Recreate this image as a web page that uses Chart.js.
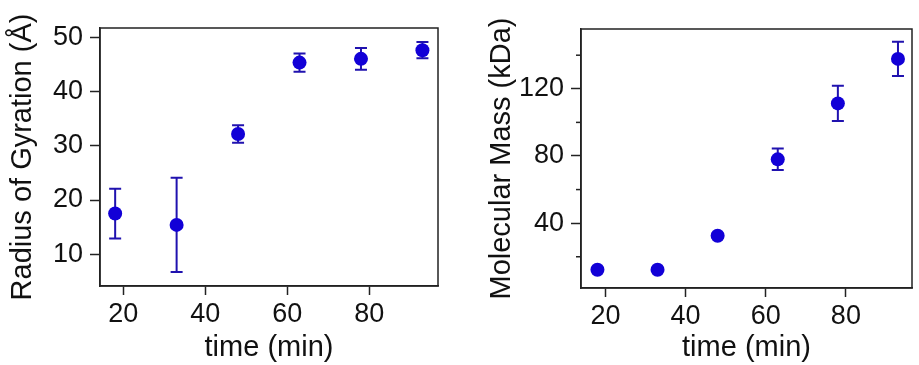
<!DOCTYPE html>
<html>
<head>
<meta charset="utf-8">
<script src="https://cdn.jsdelivr.net/npm/chart.js@4.4.1/dist/chart.umd.min.js"></script>
<style>
html, body { margin: 0; padding: 0; background: #fff; }
#wrap { position: relative; width: 919px; height: 365px; }
.panel { position: absolute; top: 0; }
</style>
</head>
<body>
<div id="wrap">
  <div class="panel" style="left:0"><canvas id="chartRg" width="460" height="365"></canvas></div>
  <div class="panel" style="left:460px"><canvas id="chartMass" width="459" height="365"></canvas></div>
</div>
<script>
// data
const timeMin = [18, 33, 48, 63, 78, 93];
const radiusGyration = [17.5, 15.4, 32.2, 45.4, 46.1, 47.7];
const radiusErr = [4.6, 8.7, 1.6, 1.7, 2.0, 1.5];
const molMass = [12.3, 12.3, 32.5, 78.0, 111.3, 137.8];
const molMassErr = [0.8, 0.8, 1.2, 6.4, 10.5, 10.2];
const xTicks = [20, 40, 60, 80];
const rgTicks = [10, 20, 30, 40, 50];
const massTicks = [40, 80, 120];
const massMinorTicks = [20, 60, 100, 140];

const fontFamily = "'Liberation Sans', Arial, Helvetica, sans-serif";
const inkColor = '#111';
const axisColor = '#222';
const dotColor = 'rgb(18, 0, 215)';
const errColor = 'rgb(32, 18, 175)';

const extras = {
    id: 'extras',
    beforeDatasetsDraw(chart, args, opts) {
        const {ctx, scales: {x, y}} = chart;
        const pts = chart.data.datasets[0].data;
        ctx.save();
        ctx.strokeStyle = errColor;
        ctx.lineWidth = 2;
        pts.forEach((p, i) => {
            const e = opts.err[i];
            const px = x.getPixelForValue(p.x);
            const top = y.getPixelForValue(p.y + e);
            const bot = y.getPixelForValue(p.y - e);
            ctx.beginPath();
            ctx.moveTo(px, top); ctx.lineTo(px, bot);
            ctx.moveTo(px - 6, top); ctx.lineTo(px + 6, top);
            ctx.moveTo(px - 6, bot); ctx.lineTo(px + 6, bot);
            ctx.stroke();
        });
        ctx.restore();
    },
    afterDraw(chart, args, opts) {
        const {ctx, chartArea: a, scales: {y}} = chart;
        ctx.save();
        // box frame
        ctx.strokeStyle = axisColor;
        ctx.lineWidth = 1.5;
        ctx.strokeRect(a.left, a.top, a.right - a.left, a.bottom - a.top);
        // minor ticks
        (opts.minor || []).forEach(v => {
            const py = y.getPixelForValue(v);
            ctx.beginPath();
            ctx.moveTo(a.left - 5, py);
            ctx.lineTo(a.left, py);
            ctx.stroke();
        });
        // y title (drawn here so it is not squeezed to the axis height)
        ctx.translate(opts.titleX, (a.top + a.bottom) / 2);
        ctx.rotate(-Math.PI / 2);
        ctx.fillStyle = inkColor;
        ctx.font = '29px ' + fontFamily;
        ctx.textAlign = 'center';
        ctx.textBaseline = 'middle';
        ctx.fillText(opts.title, 0, 0);
        ctx.restore();
    }
};

const makeChart = (canvasId, yValues, yErr, cfg) => {
    return new Chart(document.getElementById(canvasId), {
        type: 'scatter',
        data: {
            datasets: [{
                data: timeMin.map((t, i) => ({x: t, y: yValues[i]})),
                backgroundColor: dotColor,
                borderWidth: 0,
                pointRadius: 7
            }]
        },
        options: {
            responsive: false,
            animation: false,
            events: [],
            layout: {padding: {top: cfg.padTop, right: cfg.padRight, left: 0, bottom: 0}},
            plugins: {
                legend: {display: false},
                tooltip: {enabled: false},
                extras: {err: yErr, title: cfg.yTitle, titleX: cfg.titleX, minor: cfg.minor}
            },
            scales: {
                x: {
                    type: 'linear',
                    min: cfg.xMin,
                    max: cfg.xMax,
                    afterBuildTicks: s => { s.ticks = xTicks.map(v => ({value: v})); },
                    afterFit: s => { s.height = cfg.xHeight; },
                    grid: {drawOnChartArea: false, tickLength: 9, tickColor: axisColor, tickWidth: 1.5},
                    border: {color: axisColor, width: 1.5},
                    ticks: {font: {family: fontFamily, size: 27}, color: inkColor, padding: 3, maxRotation: 0, autoSkip: false},
                    title: {display: true, text: 'time (min)', font: {family: fontFamily, size: 29}, color: inkColor, padding: {top: 0, bottom: cfg.xTitlePad}}
                },
                y: {
                    type: 'linear',
                    min: cfg.yMin,
                    max: cfg.yMax,
                    afterBuildTicks: s => { s.ticks = cfg.yTicks.map(v => ({value: v})); },
                    afterFit: s => { s.width = cfg.yWidth; },
                    grid: {drawOnChartArea: false, tickLength: 10, tickColor: axisColor, tickWidth: 1.5},
                    border: {color: axisColor, width: 1.5},
                    ticks: {font: {family: fontFamily, size: 27}, color: inkColor, padding: 7, autoSkip: false}
                }
            }
        },
        plugins: [extras]
    });
};

const chartRg = makeChart('chartRg', radiusGyration, radiusErr, {
    padTop: 28, padRight: 22, xHeight: 79, yWidth: 100,
    xMin: 14.3, xMax: 96.8, yMin: 4.1, yMax: 51.8,
    yTicks: rgTicks, yTitle: 'Radius of Gyration (Å)', titleX: 23, xTitlePad: 0
});

const chartMass = makeChart('chartMass', molMass, molMassErr, {
    padTop: 29, padRight: 4, xHeight: 77, yWidth: 121,
    xMin: 13.9, xMax: 96.5, yMin: 1.4, yMax: 155.6,
    yTicks: massTicks, minor: massMinorTicks, yTitle: 'Molecular Mass (kDa)', titleX: 42, xTitlePad: 0
});
</script>
</body>
</html>
